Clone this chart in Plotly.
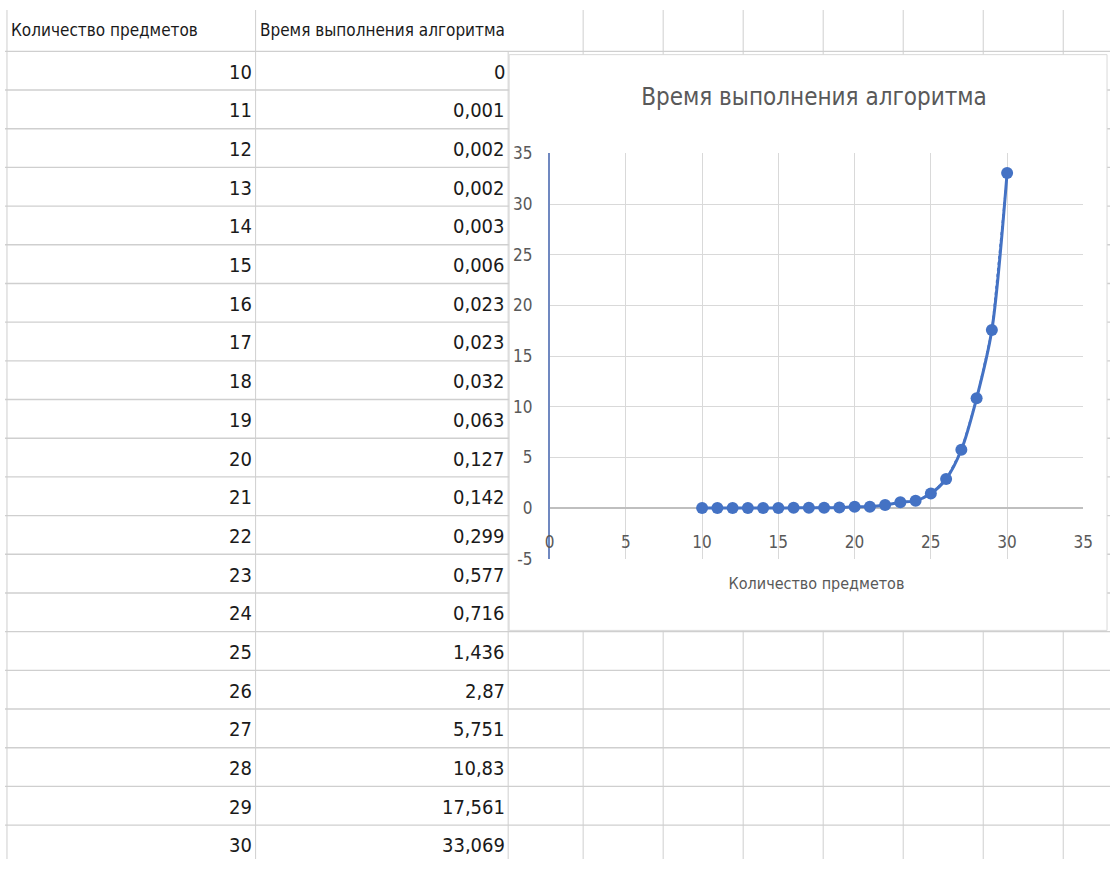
import plotly.graph_objects as go

# ---------------- data ----------------
items = [10, 11, 12, 13, 14, 15, 16, 17, 18, 19, 20, 21, 22, 23, 24, 25, 26, 27, 28, 29, 30]
times = [0, 0.001, 0.002, 0.002, 0.003, 0.006, 0.023, 0.023, 0.032, 0.063, 0.127,
         0.142, 0.299, 0.577, 0.716, 1.436, 2.87, 5.751, 10.83, 17.561, 33.069]
header_items = "Количество предметов"
header_time = "Время выполнения алгоритма"
chart_title = "Время выполнения алгоритма"
x_title = "Количество предметов"
x_ticks = [0, 5, 10, 15, 20, 25, 30, 35]
y_ticks = [-5, 0, 5, 10, 15, 20, 25, 30, 35]

# ---------------- geometry / style ----------------
W, H = 1120, 869
FONT = "Liberation Sans Narrow, Arial Narrow, DejaVu Sans Condensed, Liberation Sans, sans-serif"
BLUE = "#4472C4"
GRAY_TXT = "#595959"
CELL_LINE = "#cfcfcf"
ROW_H = 39.6
HEADER_BOTTOM = 42.3
COL_A_RIGHT = 254
COL_B_RIGHT = 510
EXTRA_COL0 = 586
EXTRA_COL_W = 81.1
CHART_BOX = (511, 45.7, 1117, 635)   # x0, y0, x1, y1 in px
PLOT_X = (552, 1093)
PLOT_Y = (561.7, 146.7)  # px for y=-5 and y=35
ZERO_Y_PX = 510


def px(x):
    return x / W


def py(y):
    return 1 - y / H


shapes = []
# spreadsheet horizontal lines
k = 0
while HEADER_BOTTOM + k * ROW_H <= H:
    yy = HEADER_BOTTOM + k * ROW_H
    shapes.append(dict(type="line", xref="paper", yref="paper", x0=0, x1=1,
                       y0=py(yy), y1=py(yy), line=dict(color=CELL_LINE, width=1.4), layer="below"))
    k += 1
# spreadsheet vertical lines
for xx, top in [(2, 0), (COL_A_RIGHT, 0), (COL_B_RIGHT, HEADER_BOTTOM)]:
    shapes.append(dict(type="line", xref="paper", yref="paper", x0=px(xx), x1=px(xx), y0=0, y1=py(top),
                       line=dict(color=CELL_LINE, width=1), layer="below"))
c = 0
while EXTRA_COL0 + c * EXTRA_COL_W < W:
    xx = EXTRA_COL0 + c * EXTRA_COL_W
    shapes.append(dict(type="line", xref="paper", yref="paper", x0=px(xx), x1=px(xx), y0=0, y1=1,
                       line=dict(color=CELL_LINE, width=1), layer="below"))
    c += 1
# chart box
shapes.append(dict(type="rect", xref="paper", yref="paper",
                   x0=px(CHART_BOX[0]), x1=px(CHART_BOX[2]), y0=py(CHART_BOX[3]), y1=py(CHART_BOX[1]),
                   fillcolor="white", line=dict(color="#d9d9d9", width=1), layer="below"))

# table text
TXT = "#1a1a1a"
annotations = [
    dict(text=header_items, x=px(4), y=py(20), xref="paper", yref="paper", xanchor="left", yanchor="middle",
         showarrow=False, font=dict(family=FONT, size=17, color=TXT)),
    dict(text=header_time, x=px(256), y=py(20), xref="paper", yref="paper", xanchor="left", yanchor="middle",
         showarrow=False, font=dict(family=FONT, size=17, color=TXT)),
]
for i, (n, t) in enumerate(zip(items, times)):
    bottom = HEADER_BOTTOM + (i + 1) * ROW_H
    yc = py(bottom - ROW_H / 2 + 1)
    annotations.append(dict(text=str(n), x=px(COL_A_RIGHT - 2), y=yc, xref="paper", yref="paper",
                            xanchor="right", yanchor="middle", showarrow=False,
                            font=dict(family=FONT, size=20, color=TXT)))
    annotations.append(dict(text=f"{t:g}".replace(".", ","), x=px(COL_B_RIGHT - 1), y=yc, xref="paper",
                            yref="paper", xanchor="right", yanchor="middle", showarrow=False,
                            font=dict(family=FONT, size=20, color=TXT)))

fig = go.Figure()
fig.add_trace(go.Scatter(x=items, y=times, mode="lines", line=dict(color=BLUE, width=1.5, dash="dot"),
                         hoverinfo="skip", showlegend=False))
fig.add_trace(go.Scatter(x=items, y=times, mode="lines+markers",
                         line=dict(color=BLUE, width=3, shape="spline", smoothing=0.8),
                         marker=dict(size=12, color=BLUE), showlegend=False))

fig.update_layout(
    width=W, height=H,
    margin=dict(l=0, r=0, t=0, b=0),
    paper_bgcolor="white", plot_bgcolor="rgba(0,0,0,0)",
    font=dict(family=FONT, color=GRAY_TXT),
    title=dict(text=chart_title, x=px((CHART_BOX[0] + CHART_BOX[2]) / 2), y=py(97),
               xanchor="center", yanchor="middle", font=dict(family=FONT, size=24, color=GRAY_TXT)),
    xaxis=dict(domain=[px(PLOT_X[0]), px(PLOT_X[1])], range=[0, 35], tickvals=x_ticks,
               ticktext=[str(v) for v in x_ticks],
               showgrid=True, gridcolor="#d9d9d9", gridwidth=1, zeroline=False, showline=False,
               anchor="free", position=py(ZERO_Y_PX), ticks="", ticklabelstandoff=22,
               tickfont=dict(family=FONT, size=17, color=GRAY_TXT),
               title=dict(text=x_title, standoff=26, font=dict(family=FONT, size=16, color=GRAY_TXT))),
    yaxis=dict(domain=[py(PLOT_Y[0]), py(PLOT_Y[1])], range=[-5, 35], tickvals=y_ticks,
               ticktext=[str(v) for v in y_ticks],
               showgrid=True, gridcolor="#d9d9d9", gridwidth=1,
               zeroline=True, zerolinecolor="#bfbfbf", zerolinewidth=1.5,
               showline=True, linecolor="#7088c0", linewidth=1.5, ticks="", ticklabelstandoff=12,
               tickfont=dict(family=FONT, size=17, color=GRAY_TXT)),
    shapes=shapes,
    annotations=annotations,
)

fig.write_html("out.html", config={"displayModeBar": False},
               post_script="document.body.style.margin='0';")
